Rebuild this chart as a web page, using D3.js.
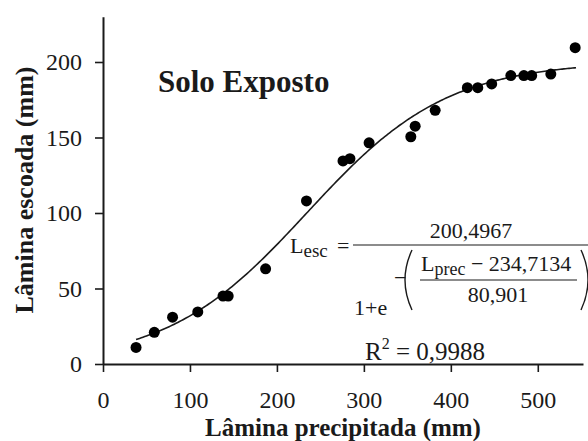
<!DOCTYPE html>
<html>
<head>
<meta charset="utf-8">
<script src="https://cdn.jsdelivr.net/npm/d3@7"></script>
<style>
  body { margin: 0; background: #fff; }
  svg { display: block; }
  svg text { font-family: "Liberation Serif", Tinos, "Times New Roman", Times, serif; fill: #1a1a1a; }
</style>
</head>
<body>
<svg id="chart" width="588" height="441"></svg>
<script>
const precip = [38, 59, 80, 109, 138, 144, 187, 234, 276, 284, 306, 354, 359, 382, 419, 431, 447, 469, 484, 493, 515, 543];
const runoff = [11, 21, 31, 34.5, 45, 45, 63, 108, 134.5, 136, 146.5, 150.5, 157.5, 168, 183, 183, 185.5, 191, 191, 191, 192, 209.5];

// fitted logistic: a / (1 + exp(-(x - b) / c)), shown on the chart
const fitParams = [200.4967, 234.7134, 80.901];
const fitSpan = [38, 545];

const xTicks = [0, 100, 200, 300, 400, 500];
const yTicks = [0, 50, 100, 150, 200];

const serif = '"Liberation Serif", Tinos, "Times New Roman", Times, serif';
const ink = "#1a1a1a";
const comma = v => v.toString().replace(".", ",");

const svg = d3.select("#chart");

const x = d3.scaleLinear().domain([0, 552]).range([103, 583]);
const y = d3.scaleLinear().domain([0, 230]).range([364, 16.7]);

// axes
const xAxis = svg.append("g")
    .attr("transform", `translate(0,${y(0)})`)
    .call(d3.axisBottom(x).tickValues(xTicks).tickSize(8).tickSizeOuter(0).tickPadding(17));
const yAxis = svg.append("g")
    .attr("transform", `translate(${x(0)},0)`)
    .call(d3.axisLeft(y).tickValues(yTicks).tickSize(8).tickSizeOuter(0).tickPadding(13));

[xAxis, yAxis].forEach(g => {
    g.attr("font-family", serif).attr("font-size", 24);
    g.select(".domain").attr("stroke", ink).attr("stroke-width", 2);
    g.selectAll(".tick line").attr("stroke", ink).attr("stroke-width", 1.6);
    g.selectAll(".tick text").attr("fill", ink);
});
xAxis.selectAll(".tick text").attr("dy", "0.78em");

// fitted curve
const fit = v => fitParams[0] / (1 + Math.exp(-(v - fitParams[1]) / fitParams[2]));
const curvePts = d3.range(fitSpan[0], fitSpan[1] + 1, 2).map(v => [v, fit(v)]);
svg.append("path")
    .datum(curvePts)
    .attr("fill", "none")
    .attr("stroke", ink)
    .attr("stroke-width", 1.6)
    .attr("d", d3.line().x(d => x(d[0])).y(d => y(d[1])));

// points
svg.append("g")
    .attr("fill", "#000")
  .selectAll("circle")
  .data(precip.map((p, i) => [p, runoff[i]]))
  .join("circle")
    .attr("cx", d => x(d[0]))
    .attr("cy", d => y(d[1]))
    .attr("r", 5.5);

// titles
svg.append("text")
    .attr("x", 158).attr("y", 92)
    .style("font-size", "31px").style("font-weight", "bold")
    .text("Solo Exposto");

svg.append("text")
    .attr("x", 343).attr("y", 436)
    .attr("text-anchor", "middle")
    .style("font-size", "25px").style("font-weight", "bold")
    .text("Lâmina precipitada (mm)");

svg.append("text")
    .attr("transform", "translate(33,190) rotate(-90)")
    .attr("text-anchor", "middle")
    .style("font-size", "26px").style("font-weight", "bold")
    .text("Lâmina escoada (mm)");

// equation
const eq = svg.append("g").style("font-size", "22px");

const lhs = eq.append("text").attr("x", 290).attr("y", 253);
lhs.append("tspan").text("L");
lhs.append("tspan").attr("dy", 4).style("font-size", "19px").text("esc");
eq.append("text").attr("x", 337).attr("y", 253).text("=");

eq.append("line")
    .attr("x1", 353).attr("x2", 588).attr("y1", 245).attr("y2", 245)
    .attr("stroke", ink).attr("stroke-width", 1.2);

eq.append("text").attr("x", 471).attr("y", 238).attr("text-anchor", "middle")
    .text(comma(fitParams[0]));

eq.append("text").attr("x", 354).attr("y", 315).style("font-size", "22px").text("1+e");
eq.append("text").attr("x", 394).attr("y", 285).style("font-size", "22px").text("−");

// big parentheses
eq.append("path")
    .attr("d", "M412,250 Q398,280 412,310")
    .attr("fill", "none").attr("stroke", ink).attr("stroke-width", 1.4);
eq.append("path")
    .attr("d", "M581,250 Q595,280 581,310")
    .attr("fill", "none").attr("stroke", ink).attr("stroke-width", 1.4);

const num = eq.append("text").attr("x", 421).attr("y", 271);
num.append("tspan").text("L");
num.append("tspan").attr("dy", 4).style("font-size", "18px").text("prec");
num.append("tspan").attr("dy", -4).text(" − " + comma(fitParams[1]));

eq.append("line")
    .attr("x1", 420).attr("x2", 577).attr("y1", 280).attr("y2", 280)
    .attr("stroke", ink).attr("stroke-width", 1.2);

eq.append("text").attr("x", 498).attr("y", 302).attr("text-anchor", "middle")
    .text(comma(fitParams[2]));

const r2 = svg.append("text").attr("x", 365).attr("y", 360).style("font-size", "25px");
r2.append("tspan").text("R");
r2.append("tspan").attr("dy", -11).style("font-size", "16px").text("2");
r2.append("tspan").attr("dy", 11).text(" = 0,9988");
</script>
</body>
</html>
